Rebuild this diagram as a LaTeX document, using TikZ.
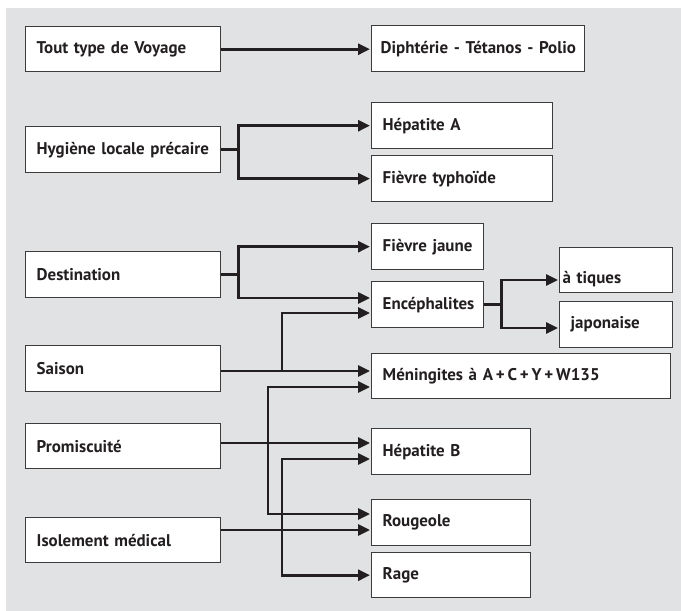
\documentclass[tikz,border=0pt]{standalone}
\usepackage{fontspec}
\newfontfamily\labfont[WordSpace=0.75]{PT Sans}
\usetikzlibrary{arrows.meta}
\definecolor{bgc}{RGB}{225,226,228}
\definecolor{boxc}{RGB}{60,60,60}
\definecolor{linec}{RGB}{35,31,32}
\begin{document}
\begin{tikzpicture}[x=1bp,y=-1bp,
  box/.style={draw=boxc, fill=white, line width=1.4bp, rectangle, inner xsep=11bp, inner ysep=0bp,
    align=left, anchor=north west, font=\labfont\bfseries\fontsize{17}{19}\selectfont, text=linec},
  lbox/.style={box, text width=173bp, minimum height=#1},
  arr/.style={draw=linec, line width=2.8bp, -{Triangle[length=12bp,width=11bp]}, shorten >=1bp},
  arr2/.style={draw=linec, line width=2.8bp, {Triangle[length=12bp,width=11bp]}-{Triangle[length=12bp,width=11bp]}, shorten >=1bp, shorten <=1bp},
  ln/.style={draw=linec, line width=2.8bp}]
\useasboundingbox (0,0) rectangle (681,611);
\fill[bgc] (6,8) rectangle (681,611);
% left column
\node[lbox=45bp] (tout) at (25,26) {Tout type de Voyage};
\node[lbox=46bp] (hyg) at (25,126) {Hygiène locale précaire};
\node[lbox=46bp] (dest) at (25,251) {Destination};
\node[lbox=46bp] (sai) at (25,345) {Saison};
\node[lbox=45bp] (prom) at (25,423) {Promiscuité};
\node[lbox=45bp] (isol) at (25,517) {Isolement médical};
% right column
\node[box, inner xsep=9bp, text width=195bp, minimum height=46bp] (dip) at (371,25) {\mbox{Diphtérie - Tétanos - Polio}};
\node[box, text width=159bp, minimum height=46bp] (hepa) at (371,102) {Hépatite A};
\node[box, text width=159bp, minimum height=46bp] (fiev) at (371,155) {Fièvre typhoïde};
\node[box, text width=90bp, minimum height=46bp] (fj) at (371,223) {Fièvre jaune};
\node[box, text width=90bp, minimum height=46bp] (enc) at (371,281) {Encéphalites};
\node[box, inner xsep=3bp, text width=107bp, minimum height=45bp] (at) at (559,247) {\raisebox{-7bp}[\height][0pt]{à tiques}};
\node[box, text width=91bp, minimum height=46bp] (jap) at (559,301) {japonaise};
\node[box, text width=277bp, minimum height=45bp] (men) at (371,353) {Méningites à A\,+\,C\,+\,Y\,+\,W135};
\node[box, text width=137bp, minimum height=46bp] (hepb) at (371,428) {Hépatite B};
\node[box, text width=137bp, minimum height=46bp] (roug) at (371,499) {Rougeole};
\node[box, text width=137bp, minimum height=45bp] (rage) at (371,552) {Rage};
% connectors
\draw[arr] (tout.east) -- (tout.east -| dip.west);
\draw[arr] (hyg.east) -- ++(17,0) |- (hepa.west);
\draw[arr] (hyg.east) -- ++(17,0) |- (fiev.west);
\draw[arr] (dest.east) -- ++(17,0) |- (fj.west);
\draw[arr] (dest.east) -- ++(17,0) |- (enc.west |- 0,298);
\draw[arr] (enc.east) -- ++(17,0) |- (at.west |- 0,280);
\draw[arr] (enc.east) -- ++(17,0) |- (jap.west |- 0,328);
\coordinate (j1) at (282,371);
\draw[arr] (sai.east |- j1) -- (men.west |- j1);
\draw[arr] (j1) |- (enc.west |- 0,313);
\draw[arr2] (men.west |- 0,387) -| (268,450) |- (roug.west |- 0,514);
\draw[arr] (prom.east |- 0,443) -- (hepb.west |- 0,443);
\draw[arr2] (hepb.west |- 0,459) -| (282,500) |- (rage.west);
\draw[arr] (isol.east |- 0,530) -- (roug.west |- 0,530);
\end{tikzpicture}
\end{document}
